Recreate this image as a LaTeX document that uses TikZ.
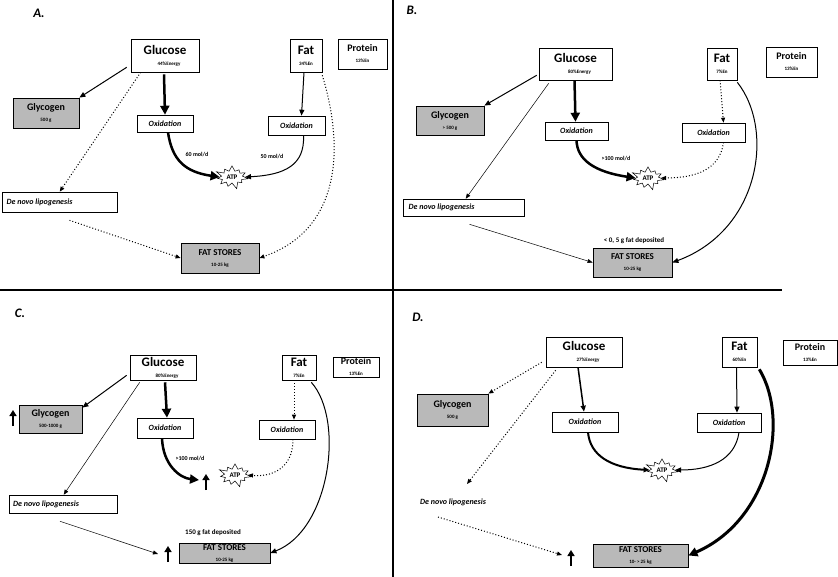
\documentclass[tikz,border=0pt]{standalone}
\usepackage{fontspec}
\setmainfont{Carlito}
\usetikzlibrary{arrows.meta,shapes.symbols}
\newcommand\bx[7]{\node[#6,minimum width={(#4-#2)*1pt},minimum height={(#5-#3)*1pt}] (#1) at ({(#2+#4)/2},{(#3+#5)/2}) {#7};}
\newcommand\upar[3]{\draw[uparrow] (#2,#3+8) -- (#2,#3-8) coordinate (#1);}
\tikzset{
 wbox/.style={draw,fill=white,inner sep=1pt,align=center,line width=0.6pt},
 gbox/.style={draw,fill=gray!55,inner sep=1pt,align=center,line width=0.8pt},
 obox/.style={wbox,font=\fontsize{8}{9}\selectfont\bfseries\itshape},
 dbox/.style={wbox,font=\fontsize{8}{9}\selectfont\bfseries\itshape,align=left,anchor=center},
 atp/.style={starburst,starburst points=11,draw,fill=white,inner sep=2pt,font=\fontsize{7}{8}\selectfont\bfseries,line width=0.5pt,starburst point height=7pt},
 lab/.style={font=\fontsize{13}{14}\selectfont\bfseries\itshape},
 sm/.style={font=\fontsize{6}{7}\selectfont\bfseries},
 ar/.style={-{Triangle[length=6pt,width=5pt]},line width=1pt},
 thin/.style={-{Triangle[length=5pt,width=4pt]},line width=0.5pt},
 dot/.style={-{Triangle[length=5pt,width=4pt]},line width=1pt,dotted},
 thick/.style={-{Triangle[length=9pt,width=9pt]},line width=2.5pt},
 uparrow/.style={-{Triangle[length=6pt,width=7pt]},line width=2pt},
}
\newcommand\glu[1]{{\fontsize{13}{13}\selectfont\bfseries Glucose}\\[-1pt]\hspace*{8pt}{\fontsize{5}{6}\selectfont\bfseries #1}}
\newcommand\fat[1]{{\fontsize{13}{13}\selectfont\bfseries Fat}\\[-1pt]{\fontsize{5}{6}\selectfont\bfseries #1}}
\newcommand\pro{{\fontsize{10}{10}\selectfont\bfseries Protein}\\[-1pt]{\fontsize{5}{6}\selectfont\bfseries 13\%En}}
\newcommand\gly[1]{{\fontsize{10}{10}\selectfont\bfseries Glycogen}\\[-1pt]{\fontsize{5}{6}\selectfont\bfseries #1}}
\newcommand\fs[1]{{\fontsize{9}{9}\selectfont\bfseries FAT STORES}\\[-1pt]{\fontsize{5}{6}\selectfont\bfseries #1}}
\begin{document}
\begin{tikzpicture}[x=1pt,y=-1pt]
\useasboundingbox (0,0) rectangle (838,577);
\draw[line width=1.5pt] (393,0) -- (393,577);
\draw[line width=2.5pt] (0,290) -- (782,290);
% ---------- A
\node[lab] (la) at (39,13) {A.};
\bx{ga}{131}{39}{199}{72}{wbox}{\glu{44\%Energy}}
\bx{fa}{290}{39}{322}{72}{wbox}{\fat{34\%En}}
\bx{pa}{338}{39}{387}{69}{wbox}{\pro}
\bx{gya}{13}{98}{79}{128}{gbox}{\gly{500 g}}
\bx{oga}{137}{115}{193}{132}{obox}{Oxidation}
\bx{ofa}{268}{116}{325}{135}{obox}{Oxidation}
\node[atp] (atpa) at (232,177) {ATP};
\bx{da}{2}{192}{117}{212}{dbox}{De novo lipogenesis\hspace*{40pt}}
\bx{fsa}{181}{243}{259}{273}{gbox}{\fs{10-25 kg}}
\draw[ar] (ga.south west)+(-4,-5) -- (gya.north east);
\draw[dot] ([xshift=10pt]ga.south west) -- ([xshift=58pt]da.north west);
\draw[thick] (ga.south) ++(-1,2) -- (oga.north);
\draw[ar] (fa.south) ++(-2,0) -- ([xshift=5pt]ofa.north);
\draw[dot] (fa.south east) ++(0,3) .. controls (345,150) and (340,230) .. (fsa.east);
\draw[dot] (da.south) ++(10,8) -- (fsa.west);
\draw[thick] (oga.south) ++(3,0) .. controls (172,160) and (185,172) .. (atpa.west);
\draw[ar] (ofa.south) ++(7,0) .. controls (305,165) and (285,175) .. (atpa.east);
\node[sm] (a60) at (197,155) {60 mol/d};
\node[sm] (a50) at (272,157) {50 mol/d};
% ---------- B
\node[lab] (lb) at (412,10) {B.};
\bx{gb}{539}{48}{612}{80}{wbox}{\glu{80\%Energy}}
\bx{fb}{707}{48}{737}{80}{wbox}{\fat{7\%En}}
\bx{pb}{766}{47}{817}{77}{wbox}{\pro}
\bx{gyb}{416}{106}{484}{135}{gbox}{\gly{\textgreater{} 500 g}}
\bx{ogb}{545}{122}{608}{140}{obox}{Oxidation}
\bx{ofb}{682}{123}{745}{142}{obox}{Oxidation}
\node[atp] (atpb) at (648,178) {ATP};
\bx{db}{403}{199}{524}{216}{dbox}{De novo lipogenesis\hspace*{44pt}}
\bx{fsb}{593}{248}{672}{277}{gbox}{\fs{10-25 kg}}
\node[sm,font=\fontsize{7}{8}\selectfont\bfseries] (tb) at (634,241) {< 0, 5 g fat deposited};
\draw[ar] (gb.south west) ++(-2,-5) -- (gyb.north east);
\draw[thin] (gb.south west) ++(10,3) -- ([xshift=63pt]db.north west);
\draw[thick] (gb.south) ++(-1,0) -- ([xshift=-1pt]ogb.north);
\draw[dot] (fb.south) ++(-2,0) -- ([xshift=10pt]ofb.north);
\draw[ar] (fb.south east) ++(0,2) .. controls (775,130) and (760,230) .. (fsb.east);
\draw[thin] (db.south) ++(6,8) -- (fsb.west);
\draw[thick] (ogb.south) ++(0,0) .. controls (577,160) and (595,172) .. (atpb.west);
\draw[dot] (ofb.south) ++(10,0) .. controls (720,170) and (695,178) .. (atpb.east);
\node[sm] (b100) at (616,159) {>100 mol/d};
% ---------- C
\node[lab] (lc) at (20,313) {C.};
\bx{gc}{130}{355}{196}{380}{wbox}{\glu{80\%Energy}}
\bx{fc}{282}{355}{316}{380}{wbox}{\fat{7\%En}}
\bx{pc}{333}{357}{379}{377}{wbox}{\pro}
\bx{gyc}{19}{405}{82}{433}{gbox}{\gly{500-1000 g}}
\bx{ogc}{137}{418}{193}{438}{obox}{Oxidation}
\bx{ofc}{259}{420}{315}{439}{obox}{Oxidation}
\node[atp] (atpc) at (235,475) {ATP};
\bx{dc}{9}{495}{117}{513}{dbox}{De novo lipogenesis\hspace*{34pt}}
\bx{fsc}{179}{543}{270}{563}{gbox}{\fs{10-25 kg}}
\node[sm,font=\fontsize{7}{8}\selectfont\bfseries] (tc) at (213,533) {150 g fat deposited};
\upar{u1}{13}{418}
\upar{u2}{206}{482}
\upar{u3}{168}{554}
\draw[ar] (gc.south west) ++(-3,-5) -- ([yshift=-3pt]gyc.north east);
\draw[thin] (gc.south west) ++(10,2) -- ([xshift=55pt]dc.north west);
\draw[thick] (gc.south) ++(2,2) -- ([xshift=2pt]ogc.north);
\draw[dot] (fc.south) ++(-5,0) -- ([xshift=7pt]ofc.north);
\draw[ar] (fc.south east) ++(-5,2) .. controls (345,420) and (330,530) .. (fsc.east);
\draw[thin] (dc.south) ++(-3,8) -- (158,554);
\draw[thick] (ogc.south) ++(-3,0) .. controls (163,465) and (180,478) .. (199,480);
\draw[dot] (ofc.south) ++(6,0) .. controls (293,470) and (270,477) .. (atpc.east);
\node[sm] (c100) at (190,459) {>100 mol/d};
% ---------- D
\node[lab] (ld) at (418,317) {D.};
\bx{gd}{546}{337}{622}{367}{wbox}{\glu{27\%Energy}}
\bx{fd}{722}{337}{757}{367}{wbox}{\fat{60\%En}}
\bx{pd}{783}{340}{837}{365}{wbox}{\pro}
\bx{gyd}{417}{394}{488}{426}{gbox}{\gly{500 g}}
\bx{ogd}{552}{412}{618}{432}{obox}{Oxidation}
\bx{ofd}{697}{413}{761}{432}{obox}{Oxidation}
\node[atp] (atpd) at (662,470) {ATP};
\node[font=\fontsize{8}{9}\selectfont\bfseries\itshape] (dd) at (453,502) {De novo lipogenesis};
\bx{fsd}{593}{544}{688}{567}{gbox}{\fs{10- > 25 kg}}
\upar{u4}{571}{558}
\draw[dot] (gd.south west) ++(-4,-5) -- (gyd.north east);
\draw[dot] (gd.south west) ++(10,3) -- (467,484);
\draw[ar,line width=1.5pt] (gd.south) ++(-6,0) -- ([xshift=-1pt]ogd.north);
\draw[ar] (fd.south) ++(-3,0) -- ([xshift=8pt]ofd.north);
\draw[thick,line width=3pt] (fd.south east) ++(2,2) .. controls (790,420) and (770,520) .. (fsd.east);
\draw[dot] (dd.south) ++(-15,8) -- (562,555);
\draw[ar,line width=2pt] (ogd.south) ++(3,0) .. controls (590,455) and (610,468) .. (atpd.west);
\draw[ar] (ofd.south) ++(10,0) .. controls (735,460) and (710,470) .. (atpd.east);
\end{tikzpicture}
\end{document}
